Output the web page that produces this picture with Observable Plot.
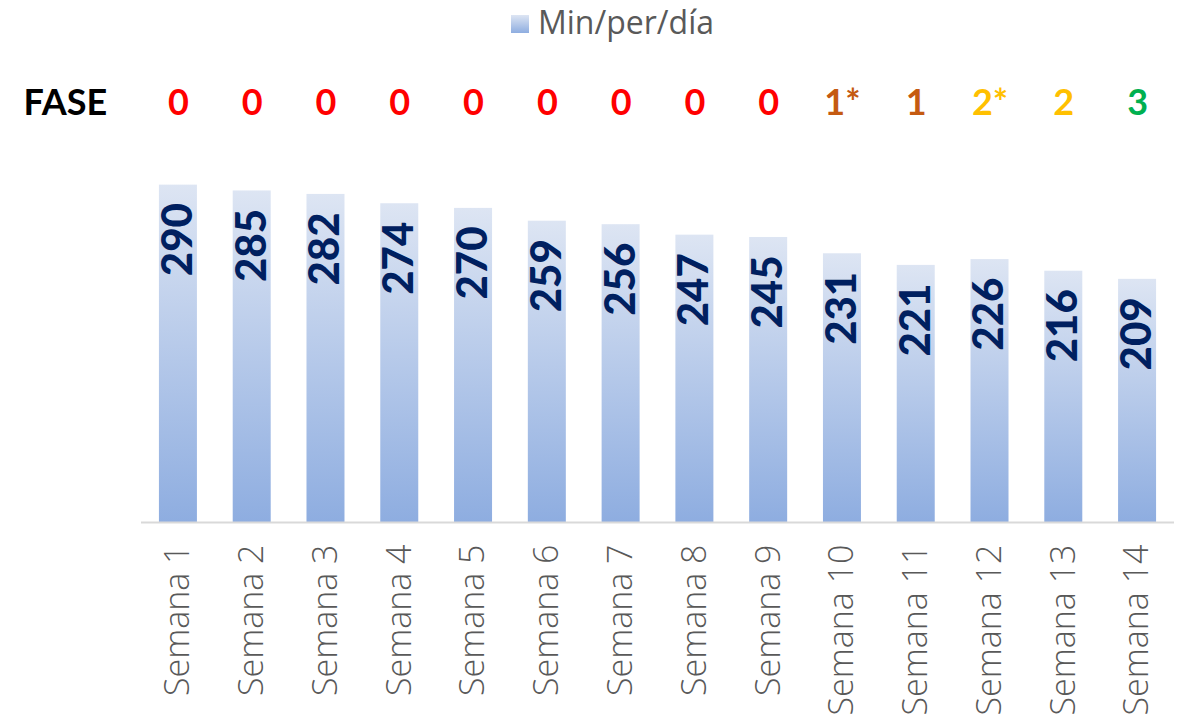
<!DOCTYPE html>
<html>
<head>
<meta charset="utf-8">
<script src="https://cdn.jsdelivr.net/npm/d3@7"></script>
<script src="https://cdn.jsdelivr.net/npm/@observablehq/plot@0.6"></script>
<style>
  body { margin: 0; background: #fff; }
  #legend { position: relative; width: 1181px; height: 52px; font-family: "Open Sans", Lato, sans-serif; }
  #legend .sw { position: absolute; left: 511px; top: 15px; width: 18px; height: 18px;
    background: linear-gradient(to bottom, #DDE5F3, #8EADE0); }
  #legend .lb { position: absolute; left: 538px; top: 2px; font-size: 32px; color: #595959; font-weight: 400; line-height: 40px; }
  .chart [aria-label^="x-axis"] text { font-size: 34px; font-weight: 300; fill: #595959; font-family: "Open Sans", Lato, sans-serif; }
</style>
</head>
<body>
<div id="legend"><div class="sw"></div><div class="lb">Min/per/día</div></div>
<div id="chart"></div>
<script>
const weeks = ["Semana 1","Semana 2","Semana 3","Semana 4","Semana 5","Semana 6","Semana 7","Semana 8","Semana 9","Semana 10","Semana 11","Semana 12","Semana 13","Semana 14"];
const minutes = [290,285,282,274,270,259,256,247,245,231,221,226,216,209];
const phases = ["0","0","0","0","0","0","0","0","0","1*","1","2*","2","3"];

const phaseColor = p => ({"0": "#FF0000", "1": "#C55A11", "2": "#FFC000", "3": "#00B050"})[p[0]];
const data = weeks.map((w, i) => ({week: w, value: minutes[i], phase: phases[i]}));

const gradientDefs = () => {
  const defs = d3.create("svg:defs");
  const g = defs.append("linearGradient").attr("id", "barGrad")
    .attr("x1", 0).attr("y1", 0).attr("x2", 0).attr("y2", 1);
  g.append("stop").attr("offset", "0%").attr("stop-color", "#DDE5F3");
  g.append("stop").attr("offset", "100%").attr("stop-color", "#8EADE0");
  return defs.node();
};

const chart = Plot.plot({
  className: "chart",
  width: 1181,
  height: 667,
  marginLeft: 141,
  marginRight: 7,
  marginTop: 121,
  marginBottom: 197,
  style: {fontFamily: "Lato, 'Open Sans', sans-serif", background: "#fff", color: "#595959"},
  x: {domain: weeks, paddingInner: 0.485, paddingOuter: 0.243, round: false, tickRotate: -90, tickSize: 0, tickPadding: 22, label: null},
  y: {domain: [0, 300], axis: null},
  color: {type: "identity"},
  marks: [
    gradientDefs,
    Plot.barY(data, {x: "week", y: "value", fill: "url(#barGrad)"}),
    Plot.ruleY([0], {stroke: "#D9D9D9", strokeWidth: 2}),
    Plot.text(data, {x: "week", y: "value", text: d => String(d.value), rotate: -90, textAnchor: "end", dy: 18,
      fill: "#002060", fontSize: 42, fontWeight: 900, fontFamily: "Lato, 'Liberation Sans', sans-serif"}),
    Plot.text(data, {x: "week", text: "phase", frameAnchor: "top", dy: -84, fill: d => phaseColor(d.phase),
      fontSize: 36, fontWeight: 700, fontFamily: "Lato, 'Liberation Sans', sans-serif"}),
    Plot.text(["FASE"], {frameAnchor: "top-left", textAnchor: "start", dx: -118, dy: -84, fill: "#000",
      fontSize: 36, fontWeight: 700, fontFamily: "Lato, 'Liberation Sans', sans-serif"})
  ]
});
document.getElementById("chart").appendChild(chart);
</script>
</body>
</html>
